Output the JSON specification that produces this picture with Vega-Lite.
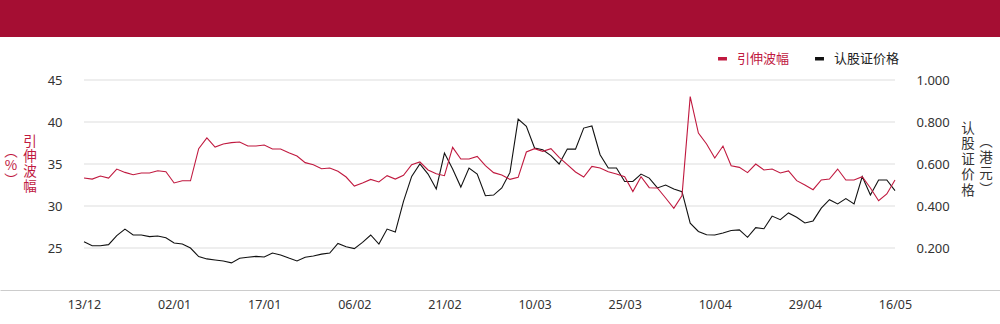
{
  "$schema": "https://vega.github.io/schema/vega-lite/v6.json",
  "padding": 0,
  "spacing": 37,
  "background": "white",
  "config": {"view": {"stroke": null}, "font": "Noto Sans"},
  "datasets": {
    "main": [
      {"i": 0, "date": "2024-12-13", "iv": 33.33, "p": 0.230},
      {"i": 1, "date": "2024-12-16", "iv": 33.2, "p": 0.211},
      {"i": 2, "date": "2024-12-17", "iv": 33.57, "p": 0.211},
      {"i": 3, "date": "2024-12-18", "iv": 33.33, "p": 0.216},
      {"i": 4, "date": "2024-12-19", "iv": 34.4, "p": 0.259},
      {"i": 5, "date": "2024-12-20", "iv": 34.0, "p": 0.290},
      {"i": 6, "date": "2024-12-23", "iv": 33.73, "p": 0.262},
      {"i": 7, "date": "2024-12-24", "iv": 33.93, "p": 0.262},
      {"i": 8, "date": "2024-12-27", "iv": 33.93, "p": 0.254},
      {"i": 9, "date": "2024-12-30", "iv": 34.2, "p": 0.257},
      {"i": 10, "date": "2024-12-31", "iv": 34.08, "p": 0.249},
      {"i": 11, "date": "2025-01-02", "iv": 32.74, "p": 0.224},
      {"i": 12, "date": "2025-01-03", "iv": 33.0, "p": 0.219},
      {"i": 13, "date": "2025-01-06", "iv": 33.0, "p": 0.200},
      {"i": 14, "date": "2025-01-07", "iv": 36.83, "p": 0.159},
      {"i": 15, "date": "2025-01-08", "iv": 38.1, "p": 0.148},
      {"i": 16, "date": "2025-01-09", "iv": 37.02, "p": 0.143},
      {"i": 17, "date": "2025-01-10", "iv": 37.38, "p": 0.138},
      {"i": 18, "date": "2025-01-13", "iv": 37.54, "p": 0.129},
      {"i": 19, "date": "2025-01-14", "iv": 37.62, "p": 0.151},
      {"i": 20, "date": "2025-01-15", "iv": 37.14, "p": 0.156},
      {"i": 21, "date": "2025-01-16", "iv": 37.14, "p": 0.160},
      {"i": 22, "date": "2025-01-17", "iv": 37.26, "p": 0.157},
      {"i": 23, "date": "2025-01-20", "iv": 36.79, "p": 0.176},
      {"i": 24, "date": "2025-01-21", "iv": 36.79, "p": 0.167},
      {"i": 25, "date": "2025-01-22", "iv": 36.35, "p": 0.152},
      {"i": 26, "date": "2025-01-23", "iv": 35.95, "p": 0.138},
      {"i": 27, "date": "2025-01-24", "iv": 35.16, "p": 0.156},
      {"i": 28, "date": "2025-01-27", "iv": 34.92, "p": 0.162},
      {"i": 29, "date": "2025-01-28", "iv": 34.44, "p": 0.171},
      {"i": 30, "date": "2025-02-03", "iv": 34.52, "p": 0.176},
      {"i": 31, "date": "2025-02-04", "iv": 34.13, "p": 0.222},
      {"i": 32, "date": "2025-02-05", "iv": 33.45, "p": 0.206},
      {"i": 33, "date": "2025-02-06", "iv": 32.38, "p": 0.197},
      {"i": 34, "date": "2025-02-07", "iv": 32.74, "p": 0.227},
      {"i": 35, "date": "2025-02-10", "iv": 33.17, "p": 0.262},
      {"i": 36, "date": "2025-02-11", "iv": 32.86, "p": 0.219},
      {"i": 37, "date": "2025-02-12", "iv": 33.61, "p": 0.290},
      {"i": 38, "date": "2025-02-13", "iv": 33.21, "p": 0.276},
      {"i": 39, "date": "2025-02-14", "iv": 33.65, "p": 0.422},
      {"i": 40, "date": "2025-02-17", "iv": 34.92, "p": 0.541},
      {"i": 41, "date": "2025-02-18", "iv": 35.24, "p": 0.600},
      {"i": 42, "date": "2025-02-19", "iv": 34.29, "p": 0.552},
      {"i": 43, "date": "2025-02-20", "iv": 33.85, "p": 0.481},
      {"i": 44, "date": "2025-02-21", "iv": 33.61, "p": 0.652},
      {"i": 45, "date": "2025-02-24", "iv": 36.98, "p": 0.576},
      {"i": 46, "date": "2025-02-25", "iv": 35.6, "p": 0.490},
      {"i": 47, "date": "2025-02-26", "iv": 35.6, "p": 0.581},
      {"i": 48, "date": "2025-02-27", "iv": 35.91, "p": 0.552},
      {"i": 49, "date": "2025-02-28", "iv": 34.8, "p": 0.449},
      {"i": 50, "date": "2025-03-03", "iv": 33.97, "p": 0.452},
      {"i": 51, "date": "2025-03-04", "iv": 33.69, "p": 0.486},
      {"i": 52, "date": "2025-03-05", "iv": 33.17, "p": 0.560},
      {"i": 53, "date": "2025-03-06", "iv": 33.41, "p": 0.814},
      {"i": 54, "date": "2025-03-07", "iv": 36.43, "p": 0.779},
      {"i": 55, "date": "2025-03-10", "iv": 36.83, "p": 0.676},
      {"i": 56, "date": "2025-03-11", "iv": 36.51, "p": 0.668},
      {"i": 57, "date": "2025-03-12", "iv": 36.83, "p": 0.640},
      {"i": 58, "date": "2025-03-13", "iv": 35.79, "p": 0.600},
      {"i": 59, "date": "2025-03-14", "iv": 34.92, "p": 0.671},
      {"i": 60, "date": "2025-03-17", "iv": 34.05, "p": 0.671},
      {"i": 61, "date": "2025-03-18", "iv": 33.45, "p": 0.771},
      {"i": 62, "date": "2025-03-19", "iv": 34.72, "p": 0.781},
      {"i": 63, "date": "2025-03-20", "iv": 34.52, "p": 0.644},
      {"i": 64, "date": "2025-03-21", "iv": 34.08, "p": 0.581},
      {"i": 65, "date": "2025-03-24", "iv": 33.81, "p": 0.581},
      {"i": 66, "date": "2025-03-25", "iv": 33.49, "p": 0.517},
      {"i": 67, "date": "2025-03-26", "iv": 31.71, "p": 0.517},
      {"i": 68, "date": "2025-03-27", "iv": 33.49, "p": 0.552},
      {"i": 69, "date": "2025-03-28", "iv": 32.18, "p": 0.533},
      {"i": 70, "date": "2025-03-31", "iv": 32.14, "p": 0.486},
      {"i": 71, "date": "2025-04-01", "iv": 30.95, "p": 0.500},
      {"i": 72, "date": "2025-04-02", "iv": 29.72, "p": 0.481},
      {"i": 73, "date": "2025-04-03", "iv": 31.23, "p": 0.468},
      {"i": 74, "date": "2025-04-07", "iv": 43.02, "p": 0.318},
      {"i": 75, "date": "2025-04-08", "iv": 38.69, "p": 0.279},
      {"i": 76, "date": "2025-04-09", "iv": 37.38, "p": 0.263},
      {"i": 77, "date": "2025-04-10", "iv": 35.71, "p": 0.262},
      {"i": 78, "date": "2025-04-11", "iv": 37.14, "p": 0.271},
      {"i": 79, "date": "2025-04-14", "iv": 34.8, "p": 0.283},
      {"i": 80, "date": "2025-04-15", "iv": 34.6, "p": 0.286},
      {"i": 81, "date": "2025-04-16", "iv": 33.97, "p": 0.251},
      {"i": 82, "date": "2025-04-17", "iv": 35.0, "p": 0.297},
      {"i": 83, "date": "2025-04-22", "iv": 34.29, "p": 0.292},
      {"i": 84, "date": "2025-04-23", "iv": 34.4, "p": 0.352},
      {"i": 85, "date": "2025-04-24", "iv": 33.93, "p": 0.335},
      {"i": 86, "date": "2025-04-25", "iv": 34.17, "p": 0.367},
      {"i": 87, "date": "2025-04-28", "iv": 33.02, "p": 0.346},
      {"i": 88, "date": "2025-04-29", "iv": 32.5, "p": 0.319},
      {"i": 89, "date": "2025-04-30", "iv": 31.94, "p": 0.329},
      {"i": 90, "date": "2025-05-02", "iv": 33.1, "p": 0.390},
      {"i": 91, "date": "2025-05-06", "iv": 33.21, "p": 0.430},
      {"i": 92, "date": "2025-05-07", "iv": 34.4, "p": 0.410},
      {"i": 93, "date": "2025-05-08", "iv": 33.1, "p": 0.435},
      {"i": 94, "date": "2025-05-09", "iv": 33.1, "p": 0.410},
      {"i": 95, "date": "2025-05-12", "iv": 33.49, "p": 0.540},
      {"i": 96, "date": "2025-05-13", "iv": 32.14, "p": 0.452},
      {"i": 97, "date": "2025-05-14", "iv": 30.63, "p": 0.524},
      {"i": 98, "date": "2025-05-15", "iv": 31.43, "p": 0.524},
      {"i": 99, "date": "2025-05-16", "iv": 33.1, "p": 0.473}
    ],
    "grid": [{"v": 25}, {"v": 30}, {"v": 35}, {"v": 40}, {"v": 45}]
  },
  "resolve": {"legend": {"color": "shared"}},
  "vconcat": [
    {
      "width": 1000,
      "height": 37,
      "view": {"fill": "#a50e33", "stroke": null},
      "data": {"values": [{}]},
      "mark": {"type": "rect", "color": "#a50e33"}
    },
    {
      "width": 1000,
      "height": 210,
      "resolve": {"scale": {"y": "independent"}, "axis": {"y": "independent"}},
      "layer": [
        {
          "data": {"name": "grid"},
          "mark": {"type": "rule", "color": "#dddddd", "strokeWidth": 1},
          "encoding": {
            "x": {
              "datum": 0, "type": "quantitative",
              "scale": {"domain": [-10.254, 111.818], "nice": false, "zero": false},
              "axis": {
                "values": [0, 11, 22, 33, 44, 55, 66, 77, 88, 99],
                "labelExpr": "['13/12','02/01','17/01','06/02','21/02','10/03','25/03','10/04','29/04','16/05'][round(datum.value / 11)]",
                "domain": true, "domainColor": "#cccccc", "domainWidth": 1,
                "ticks": false, "grid": false, "labelAngle": 0, "labelPadding": 8, "labelFlush": false,
                "labelFont": "Noto Sans", "labelFontSize": 12.5, "labelColor": "#333333",
                "title": ["︵", "港", "元", "︶"], "titleAngle": 0, "titleAlign": "center", "titleBaseline": "top",
                "titleX": 985.5, "titleY": -156, "titleFont": "Noto Sans CJK SC", "titleFontSize": 13.5,
                "titleFontWeight": "normal", "titleColor": "#333333", "titleLineHeight": 16
              }
            },
            "x2": {"datum": 99},
            "y": {
              "field": "v", "type": "quantitative", "scale": {"domain": [20, 45]},
              "axis": {
                "orient": "left", "labels": false, "domain": false, "ticks": false, "grid": false,
                "title": ["︵", "%", "︶"], "titleAngle": 0, "titleAlign": "center", "titleBaseline": "top",
                "titleX": 10.5, "titleY": 64, "titleFont": "Noto Sans CJK SC", "titleFontSize": 13.5,
                "titleFontWeight": "normal", "titleColor": "#c0193f", "titleLineHeight": 14.5
              }
            }
          }
        },
        {
          "data": {"name": "main"},
          "mark": {"type": "line", "strokeWidth": 1.1},
          "encoding": {
            "x": {
              "field": "i", "type": "quantitative",
              "scale": {"domain": [-10.254, 111.818], "nice": false, "zero": false},
              "axis": {
                "values": [0, 11, 22, 33, 44, 55, 66, 77, 88, 99],
                "labelExpr": "['13/12','02/01','17/01','06/02','21/02','10/03','25/03','10/04','29/04','16/05'][round(datum.value / 11)]",
                "domain": true, "domainColor": "#cccccc", "domainWidth": 1,
                "ticks": false, "grid": false, "labelAngle": 0, "labelPadding": 8, "labelFlush": false,
                "labelFont": "Noto Sans", "labelFontSize": 12.5, "labelColor": "#333333",
                "title": ["︵", "港", "元", "︶"], "titleAngle": 0, "titleAlign": "center", "titleBaseline": "top",
                "titleX": 985.5, "titleY": -156, "titleFont": "Noto Sans CJK SC", "titleFontSize": 13.5,
                "titleFontWeight": "normal", "titleColor": "#333333", "titleLineHeight": 16
              }
            },
            "y": {
              "field": "p", "type": "quantitative", "scale": {"domain": [0, 1]},
              "axis": {
                "orient": "right", "offset": -105, "values": [0.2, 0.4, 0.6, 0.8, 1], "format": ".3f",
                "domain": false, "ticks": false, "grid": false, "labelPadding": 21,
                "labelFont": "Noto Sans", "labelFontSize": 13, "labelColor": "#333333",
                "title": ["认", "股", "证", "价", "格"], "titleAngle": 0, "titleAlign": "center", "titleBaseline": "top",
                "titleX": 72.5, "titleY": 41, "titleFont": "Noto Sans CJK SC", "titleFontSize": 13.5,
                "titleFontWeight": "normal", "titleColor": "#333333", "titleLineHeight": 15.5
              }
            },
            "color": {
              "datum": "认股证价格", "type": "nominal",
              "scale": {"domain": ["引伸波幅", "认股证价格"], "range": ["#c0193f", "#111111"]},
              "legend": {
                "orient": "none", "legendX": 716, "legendY": 52, "direction": "horizontal", "title": null,
                "symbolType": "stroke", "symbolSize": 80, "symbolStrokeWidth": 3.5,
                "labelFont": "Noto Sans CJK SC", "labelFontSize": 13, "labelOffset": 8,
                "columnPadding": 18, "padding": 0,
                "encode": {"labels": {"update": {"fill": {"signal": "datum.label === '引伸波幅' ? '#c0193f' : '#222222'"}}}}
              }
            }
          }
        },
        {
          "data": {"name": "main"},
          "mark": {"type": "line", "strokeWidth": 1.1},
          "encoding": {
            "x": {
              "field": "i", "type": "quantitative",
              "scale": {"domain": [-10.254, 111.818], "nice": false, "zero": false},
              "axis": {
                "values": [0, 11, 22, 33, 44, 55, 66, 77, 88, 99],
                "labelExpr": "['13/12','02/01','17/01','06/02','21/02','10/03','25/03','10/04','29/04','16/05'][round(datum.value / 11)]",
                "domain": true, "domainColor": "#cccccc", "domainWidth": 1,
                "ticks": false, "grid": false, "labelAngle": 0, "labelPadding": 8, "labelFlush": false,
                "labelFont": "Noto Sans", "labelFontSize": 12.5, "labelColor": "#333333",
                "title": ["︵", "港", "元", "︶"], "titleAngle": 0, "titleAlign": "center", "titleBaseline": "top",
                "titleX": 985.5, "titleY": -156, "titleFont": "Noto Sans CJK SC", "titleFontSize": 13.5,
                "titleFontWeight": "normal", "titleColor": "#333333", "titleLineHeight": 16
              }
            },
            "y": {
              "field": "iv", "type": "quantitative", "scale": {"domain": [20, 45]},
              "axis": {
                "orient": "left", "offset": -84, "values": [25, 30, 35, 40, 45],
                "domain": false, "ticks": false, "grid": false, "labelPadding": 22,
                "labelFont": "Noto Sans", "labelFontSize": 13, "labelColor": "#333333",
                "title": ["引", "伸", "波", "幅"], "titleAngle": 0, "titleAlign": "center", "titleBaseline": "top",
                "titleX": -54.5, "titleY": 54, "titleFont": "Noto Sans CJK SC", "titleFontSize": 13.5,
                "titleFontWeight": "normal", "titleColor": "#c0193f", "titleLineHeight": 15.3
              }
            },
            "color": {
              "datum": "引伸波幅", "type": "nominal",
              "scale": {"domain": ["引伸波幅", "认股证价格"], "range": ["#c0193f", "#111111"]},
              "legend": {
                "orient": "none", "legendX": 716, "legendY": 52, "direction": "horizontal", "title": null,
                "symbolType": "stroke", "symbolSize": 80, "symbolStrokeWidth": 3.5,
                "labelFont": "Noto Sans CJK SC", "labelFontSize": 13, "labelOffset": 8,
                "columnPadding": 18, "padding": 0,
                "encode": {"labels": {"update": {"fill": {"signal": "datum.label === '引伸波幅' ? '#c0193f' : '#222222'"}}}}
              }
            }
          }
        }
      ]
    }
  ]
}
